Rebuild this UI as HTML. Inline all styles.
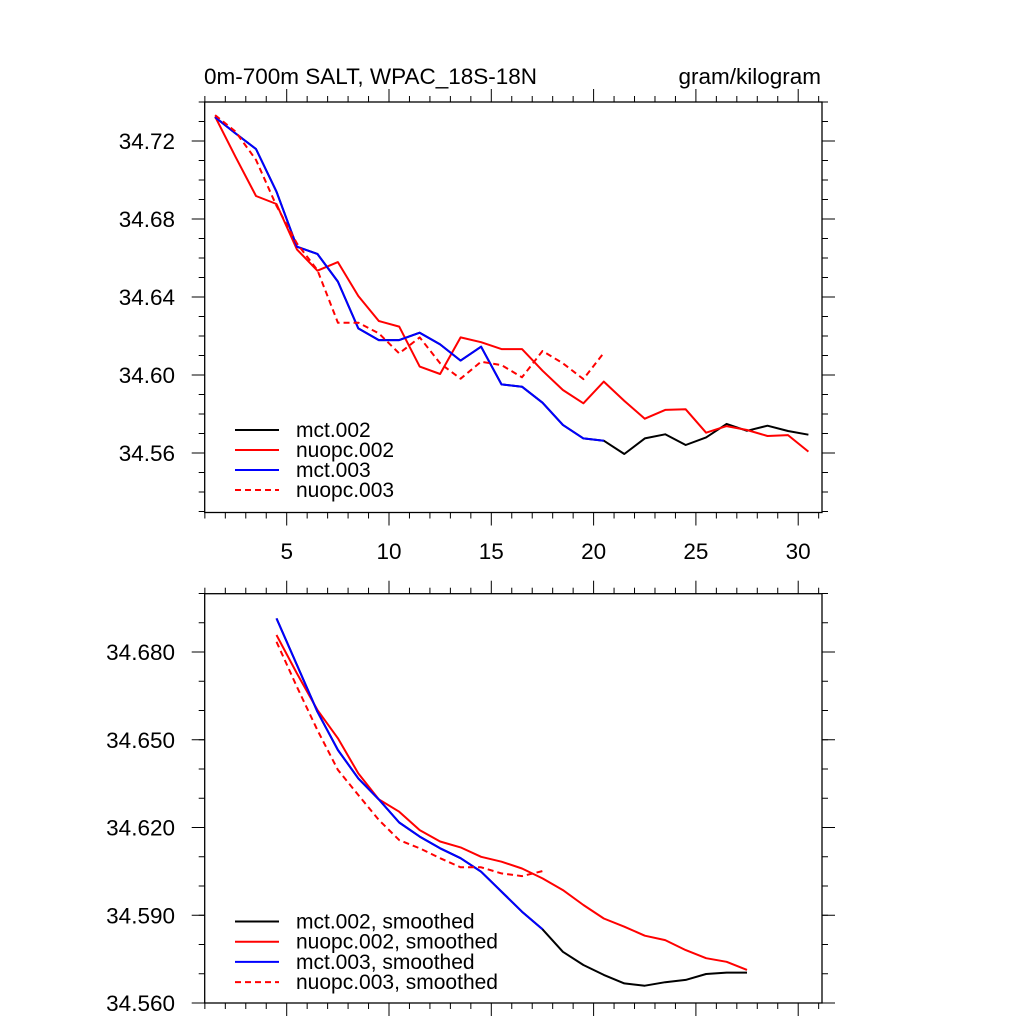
<!DOCTYPE html>
<html><head><meta charset="utf-8">
<style>
html,body{margin:0;padding:0;background:#fff;}
svg text{font-family:"Liberation Sans",Arial,sans-serif;fill:#000;}
</style></head>
<body>
<svg id="chart" width="1024" height="1024" viewBox="0 0 1024 1024" xmlns="http://www.w3.org/2000/svg">
<rect width="1024" height="1024" fill="#fff"/>
</svg>
<script>
// ---- data ----
const xTicksTop = [5,10,15,20,25,30];
const yTicksTop = [34.56,34.60,34.64,34.68,34.72];
const yTicksBottom = [34.560,34.590,34.620,34.650,34.680];
const mct002 = [34.7322,34.7239,34.7159,34.6940,34.6658,34.6621,34.6479,34.6239,34.6179,34.6179,34.6217,34.6157,34.6074,34.6145,34.5952,34.5940,34.5858,34.5744,34.5675,34.5663,34.5595,34.5675,34.5696,34.5641,34.5680,34.5749,34.5714,34.5740,34.5713,34.5694];
const nuopc002 = [34.7325,34.7119,34.6918,34.6877,34.6644,34.6535,34.6579,34.6405,34.6277,34.6248,34.6043,34.6005,34.6193,34.6168,34.6133,34.6133,34.6022,34.5923,34.5855,34.5966,34.5867,34.5776,34.5821,34.5824,34.5704,34.5738,34.5718,34.5687,34.5692,34.5607];
const mct003 = [34.7322,34.7239,34.7159,34.6940,34.6658,34.6621,34.6479,34.6239,34.6179,34.6179,34.6217,34.6157,34.6074,34.6145,34.5952,34.5940,34.5858,34.5744,34.5675,34.5663];
const nuopc003 = [34.7333,34.7248,34.7103,34.6867,34.6675,34.6538,34.6268,34.6268,34.6214,34.6111,34.6193,34.6060,34.5981,34.6068,34.6051,34.5988,34.6123,34.6060,34.5979,34.6114];
const mct002s = [34.6915,34.6756,34.6596,34.6465,34.6368,34.6296,34.6217,34.6169,34.6129,34.6095,34.6049,34.5981,34.5912,34.5852,34.5775,34.5730,34.5696,34.5667,34.5659,34.5671,34.5679,34.5699,34.5704,34.5704];
const nuopc002s = [34.6858,34.6727,34.6602,34.6505,34.6385,34.6296,34.6254,34.6191,34.6152,34.6132,34.6100,34.6083,34.6060,34.6026,34.5986,34.5935,34.5889,34.5861,34.5830,34.5815,34.5781,34.5753,34.5741,34.5713];
const mct003s = [34.6915,34.6756,34.6596,34.6465,34.6368,34.6296,34.6217,34.6169,34.6129,34.6095,34.6049,34.5981,34.5912,34.5852];
const nuopc003s = [34.6835,34.6681,34.6533,34.6397,34.6311,34.6226,34.6157,34.6129,34.6095,34.6064,34.6064,34.6043,34.6034,34.6051];

const NS='http://www.w3.org/2000/svg';
const svg=document.getElementById('chart');
function mk(tag,attrs,parent){const e=document.createElementNS(NS,tag);for(const k in attrs)e.setAttribute(k,attrs[k]);(parent||svg).appendChild(e);return e;}

const L=204.7,R=822;
function xs(v){return 286.7+20.46*(v-5);}
const xMin=1;
function ysTop(v){return 453-(v-34.56)*1950;}
function ysBot(v){return 1003-(v-34.56)*2925;}

function frame(name,top,bottom,ys,yMaj,yMinStep,yMinLo,yMinHi,fmt,xLabels){
  const g=mk('g',{});
  
  
  mk('rect',{x:L,y:top,width:R-L,height:bottom-top,fill:'none',stroke:'#000','stroke-width':1.3},g);
  for(let v=xMin;v<=31;v++){
    const x=xs(v), maj=(v%5===0), len=maj?13:6;
    mk('line',{x1:x,y1:top,x2:x,y2:top-len,stroke:'#000','stroke-width':1},g);
    mk('line',{x1:x,y1:bottom,x2:x,y2:bottom+len,stroke:'#000','stroke-width':1},g);
  }
  for(let v=yMinLo;v<=yMinHi+1e-9;v+=yMinStep){
    const y=ys(v); if(y<top-0.5||y>bottom+0.5)continue;
    mk('line',{x1:L,y1:y,x2:L-6,y2:y,stroke:'#000','stroke-width':1},g);
    mk('line',{x1:R,y1:y,x2:R+6,y2:y,stroke:'#000','stroke-width':1},g);
  }
  yMaj.forEach(v=>{
    const y=ys(v);
    mk('line',{x1:L,y1:y,x2:L-13,y2:y,stroke:'#000','stroke-width':1},g);
    mk('line',{x1:R,y1:y,x2:R+13,y2:y,stroke:'#000','stroke-width':1},g);
    const t=mk('text',{x:175,y:y+8,'font-size':22.5,'text-anchor':'end'},g);
    t.textContent=v.toFixed(fmt);
    
    
  });
  if(xLabels){
    xTicksTop.forEach(v=>{
      const t=mk('text',{x:xs(v),y:559,'font-size':22.5,'text-anchor':'middle'},g);
      t.textContent=v;
      
      
    });
  }
}
frame('top-panel',102,512.5,ysTop,yTicksTop,0.01,34.53,34.74,2,true);
frame('bottom-panel',593.7,1003,ysBot,yTicksBottom,0.01,34.56,34.70,3,false);

function series(name,arr,x0,ys,color,dash){
  const pts=arr.map((v,i)=>xs(x0+i).toFixed(1)+','+ys(v).toFixed(1)).join(' ');
  const p=mk('polyline',{points:pts,fill:'none',stroke:color,'stroke-width':2,'stroke-linejoin':'round'});
  if(dash)p.setAttribute('stroke-dasharray','6,4');
  
  
}
series('mct002-line',mct002,1.5,ysTop,'#000');
series('nuopc002-line',nuopc002,1.5,ysTop,'#f00');
series('mct003-line',mct003,1.5,ysTop,'#00f');
series('nuopc003-line',nuopc003,1.5,ysTop,'#f00',true);
series('mct002-smoothed-line',mct002s,4.5,ysBot,'#000');
series('nuopc002-smoothed-line',nuopc002s,4.5,ysBot,'#f00');
series('mct003-smoothed-line',mct003s,4.5,ysBot,'#00f');
series('nuopc003-smoothed-line',nuopc003s,4.5,ysBot,'#f00',true);

function legend(name,rows,y0,step){
  const g=mk('g',{});
  
  
  rows.forEach((r,i)=>{
    const y=y0+i*step;
    const l=mk('line',{x1:235,y1:y,x2:279,y2:y,stroke:r[1],'stroke-width':2},g);
    if(r[2])l.setAttribute('stroke-dasharray','6,4');
    const t=mk('text',{x:296,y:y+7,'font-size':21},g);
    t.textContent=r[0];
    
    
  });
}
legend('top-legend',[['mct.002','#000'],['nuopc.002','#f00'],['mct.003','#00f'],['nuopc.003','#f00',true]],430,20);
legend('bottom-legend',[['mct.002, smoothed','#000'],['nuopc.002, smoothed','#f00'],['mct.003, smoothed','#00f'],['nuopc.003, smoothed','#f00',true]],921.5,20.2);

let t=mk('text',{x:204,y:84,'font-size':22.5});
t.textContent='0m-700m SALT, WPAC_18S-18N';


t=mk('text',{x:821,y:84,'font-size':22.5,'text-anchor':'end'});
t.textContent='gram/kilogram';


</script>
</body></html>
